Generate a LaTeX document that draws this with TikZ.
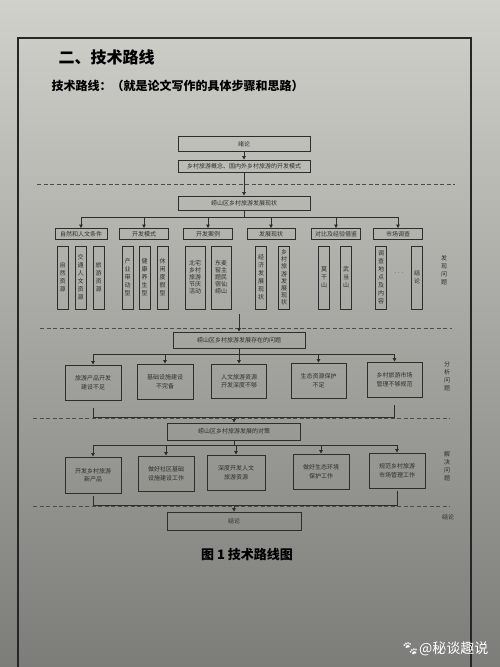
\documentclass[tikz,border=0pt]{standalone}
\usepackage{fontspec}
\newfontfamily\cjk{Noto Sans CJK SC}
\newfontfamily\emoji{Noto Emoji}
\usetikzlibrary{arrows.meta}
\definecolor{paperTop}{RGB}{208,209,203}
\definecolor{paperMid}{RGB}{194,195,190}
\definecolor{paperBot}{RGB}{124,124,120}
\definecolor{inkgray}{RGB}{45,45,45}
\tikzset{every picture/.style={line width=0.75pt}}

\begin{document}
\begin{tikzpicture}[x=1pt,y=1pt,yscale=-1,xscale=1,
	box/.style={draw=inkgray, line width=0.9pt, inner sep=0pt, align=center, text=inkgray, font=\cjk\fontsize{6}{8.5}\selectfont},
	tallbox/.style={box, minimum width=11pt, minimum height=63pt, font=\cjk\fontsize{6}{8}\selectfont},
	widebox/.style={box, minimum width=20pt, minimum height=63pt, font=\cjk\fontsize{6}{7}\selectfont},
	sidelbl/.style={align=center, text=inkgray, font=\cjk\fontsize{6}{8}\selectfont},
	sepline/.style={draw=inkgray!85, line width=0.8pt, dash pattern=on 4pt off 2.5pt},
	wire/.style={draw=inkgray, line width=0.9pt},
	conn/.style={wire, -{Triangle[length=3.5pt,width=3.5pt]}}]
	\useasboundingbox (0,0) rectangle (500,667);
	%Shape: Paper
	\shade[top color=paperTop, middle color=paperMid, bottom color=paperBot] (0,0) rectangle (500,667);
	%Shape: Frame
	\draw[line width=1.3pt, color=black!85] (18,667) -- (18,38) -- (471,38) -- (471,667);

	% Text Node
	\node[anchor=west, text=black, font=\cjk\bfseries\fontsize{16}{16}\selectfont] (ttl) at (55,57) {二、技术路线};
	% Text Node
	\node[anchor=west, text=black, font=\cjk\bfseries\fontsize{12}{12}\selectfont] (subttl) at (48,86) {技术路线：（就是论文写作的具体步骤和思路）};

	%Straight Lines (separators)
	\draw[sepline] (37,184) -- (455,184);
	\draw[sepline] (40,328) -- (452,328);
	\draw[sepline] (33,418) -- (450,418);
	\draw[sepline] (33,506) -- (450,506);

	%Shape: Rectangle (first part)
	\node[box, minimum width=132pt, minimum height=15pt] (intro) at (244,144) {绪论};
	\node[box, minimum width=132pt, minimum height=12pt] (concept) at (244,166) {乡村旅游概念、国内外乡村旅游的开发模式};
	\node[box, minimum width=132pt, minimum height=14pt] (status) at (244,203) {崂山区乡村旅游发展现状};
	\coordinate (bus1) at (244,217);

	\node[box, minimum width=52pt, minimum height=11pt] (catA) at (81,234) {自然和人文条件};
	\node[box, minimum width=49pt, minimum height=11pt] (catB) at (144,234) {开发模式};
	\node[box, minimum width=49pt, minimum height=11pt] (catC) at (208,234) {开发案例};
	\node[box, minimum width=48pt, minimum height=11pt] (catD) at (271,234) {发展现状};
	\node[box, minimum width=49pt, minimum height=11pt] (catE) at (336,234) {对比及经验借鉴};
	\node[box, minimum width=49pt, minimum height=11pt] (catF) at (398,234) {市场调查};

	\node[tallbox] (natA) at (62.5,277.5) {自\\然\\资\\源};
	\node[tallbox] (natB) at (80.5,277.5) {交\\通\\人\\文\\资\\源};
	\node[tallbox] (natC) at (98.5,277.5) {旅\\游\\资\\源};
	\node[tallbox] (modA) at (127.5,277.5) {产\\业\\带\\动\\型};
	\node[tallbox] (modB) at (144.5,277.5) {健\\康\\养\\生\\型};
	\node[tallbox] (modC) at (162.5,277.5) {休\\闲\\度\\假\\型};
	\node[widebox] (caseA) at (195,277.5) {北宅\\乡村\\旅游\\节庆\\活动};
	\node[widebox] (caseB) at (221,277.5) {东麦\\窑主\\题民\\宿仙\\崂山};
	\node[tallbox] (curA) at (261,277.5) {经\\济\\发\\展\\现\\状};
	\node[tallbox, font=\cjk\fontsize{6}{7.2}\selectfont] (curB) at (284,277.5) {乡\\村\\旅\\游\\发\\展\\现\\状};
	\node[tallbox] (cmpA) at (324,277.5) {莫\\干\\山};
	\node[tallbox] (cmpB) at (346,277.5) {武\\当\\山};
	\node[tallbox] (mktA) at (381,277.5) {调\\查\\地\\点\\及\\内\\容};
	\node[sidelbl] (mktDots) at (399,273) {$\cdots$};
	\node[tallbox] (mktB) at (417,277.5) {结\\论};
	% Text Node
	\node[sidelbl] (findLbl) at (444,270) {发\\现\\问\\题};

	%Straight Lines
	\draw[conn] (intro) -- (concept);
	\draw[conn] (concept) -- (status);
	\draw[wire] (status) -- (bus1);
	\draw[wire] (catA.north |- bus1) -- (catF.north |- bus1);
	\draw[conn] (catA.north |- bus1) -- (catA.north);
	\draw[conn] (catB.north |- bus1) -- (catB.north);
	\draw[conn] (catC.north |- bus1) -- (catC.north);
	\draw[conn] (catD.north |- bus1) -- (catD.north);
	\draw[conn] (catE.north |- bus1) -- (catE.north);
	\draw[conn] (catF.north |- bus1) -- (catF.north);

	%Shape: Rectangle (second part)
	\coordinate (feed2) at (239,314);
	\node[box, minimum width=132pt, minimum height=16pt] (prob) at (239,340) {崂山区乡村旅游发展存在的问题};
	\coordinate (bus2) at (239,354);
	\node[box, minimum width=56pt, minimum height=35pt] (probA) at (93,382.5) {旅游产品开发\\建设不足};
	\node[box, minimum width=56pt, minimum height=35pt] (probB) at (165,381.5) {基础设施建设\\不完备};
	\node[box, minimum width=55pt, minimum height=34pt] (probC) at (239,381) {人文旅游资源\\开发深度不够};
	\node[box, minimum width=55pt, minimum height=35pt] (probD) at (318.5,380.5) {生态资源保护\\不足};
	\node[box, minimum width=55pt, minimum height=35pt] (probE) at (394.5,379.5) {乡村旅游市场\\管理不够规范};
	\coordinate (join2) at (234,417);
	% Text Node
	\node[sidelbl] (analyLbl) at (447,376) {分\\析\\问\\题};

	%Straight Lines
	\draw[conn] (feed2) -- (prob);
	\draw[wire] (prob) -- (bus2);
	\draw[wire] (probA.north |- bus2) -- (probE.north |- bus2);
	\draw[conn] (probA.north |- bus2) -- (probA.north);
	\draw[conn] (probB.north |- bus2) -- (probB.north);
	\draw[conn] (probC.north |- bus2) -- (probC.north);
	\draw[conn] (probD.north |- bus2) -- (probD.north);
	\draw[conn] (probE.north |- bus2) -- (probE.north);
	\draw[wire, shorten <=8pt, shorten >=8pt] (probA.south) -- (probA.south |- join2) -- (probE.south |- join2) -- (probE.south);

	%Shape: Rectangle (third part)
	\node[box, minimum width=133pt, minimum height=17pt] (strat) at (234,431.5) {崂山区乡村旅游发展的对策};
	\draw[conn] (join2) -- (strat);
	\coordinate (bus3) at (234,445);
	\node[box, minimum width=56pt, minimum height=36pt] (solA) at (93,475) {开发乡村旅游\\新产品};
	\node[box, minimum width=56pt, minimum height=35pt] (solB) at (166,473.5) {做好社区基础\\设施建设工作};
	\node[box, minimum width=58pt, minimum height=35pt] (solC) at (236,472.5) {深度开发人文\\旅游资源};
	\node[box, minimum width=56pt, minimum height=35pt] (solD) at (321,471.5) {做好生态环境\\保护工作};
	\node[box, minimum width=56pt, minimum height=35pt] (solE) at (397,470.5) {规范乡村旅游\\市场管理工作};
	\coordinate (join3) at (234,505);
	\node[box, minimum width=134pt, minimum height=18pt] (concl) at (234,521) {结论};
	% Text Node
	\node[sidelbl] (solveLbl) at (447,466) {解\\决\\问\\题};
	% Text Node
	\node[sidelbl] (endLbl) at (448,517) {结论};

	%Straight Lines
	\draw[wire] (strat) -- (bus3);
	\draw[wire] (solA.north |- bus3) -- (solE.north |- bus3);
	\draw[conn] (solA.north |- bus3) -- (solA.north);
	\draw[conn] (solB.north |- bus3) -- (solB.north);
	\draw[conn] (solC.north |- bus3) -- (solC.north);
	\draw[conn] (solD.north |- bus3) -- (solD.north);
	\draw[conn] (solE.north |- bus3) -- (solE.north);
	\draw[wire, shorten <=3pt, shorten >=3pt] (solA.south) -- (solA.south |- join3) -- (solE.south |- join3) -- (solE.south);
	\draw[conn] (join3) -- (concl);

	% Text Node
	\node[text=black, font=\cjk\bfseries\fontsize{13}{13}\selectfont] (caption) at (247,555) {图 1 技术路线图};
	% Text Node
	\node[anchor=east, text=white, font=\cjk\fontsize{14}{14}\selectfont] (wmark) at (492,649) {{\emoji 🐾}@秘谈趣说};
\end{tikzpicture}
\end{document}
